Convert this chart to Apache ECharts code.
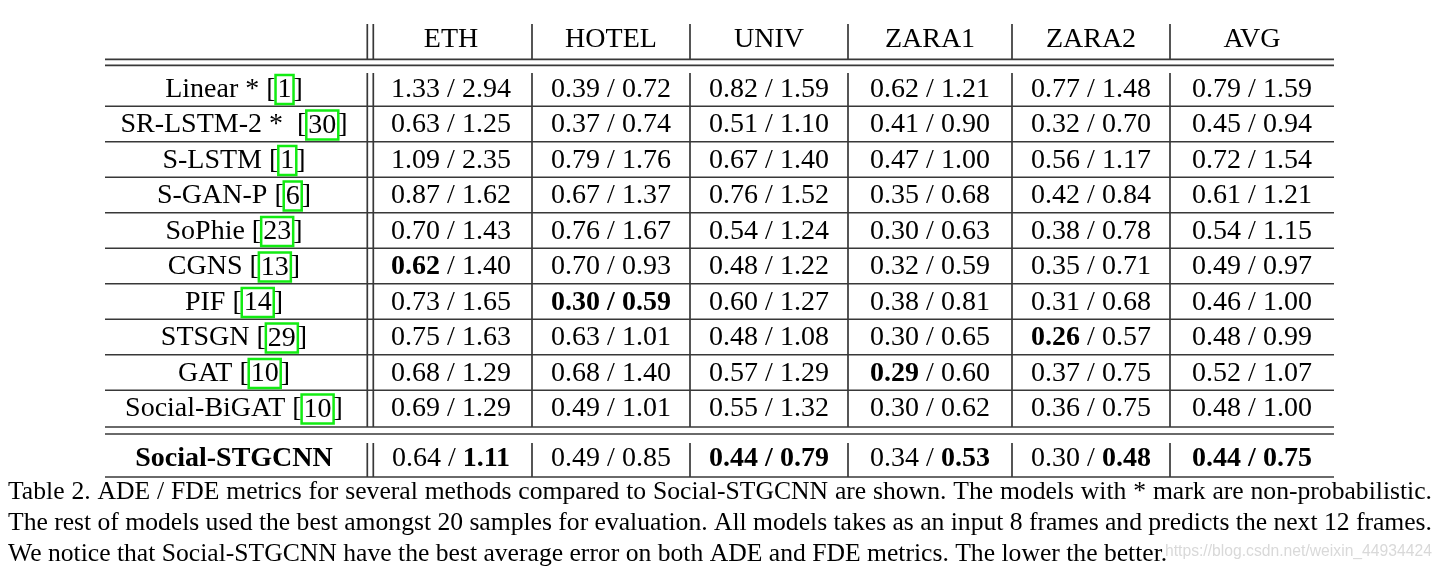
<!DOCTYPE html>
<html>
<head>
<meta charset="utf-8">
<script src="https://cdn.jsdelivr.net/npm/echarts@6/dist/echarts.min.js"></script>
<style>
  html, body { margin: 0; padding: 0; background: #fff; }
  #chart { width: 1442px; height: 579px; }
</style>
</head>
<body>
<div id="chart"></div>
<script>
// ---- data ----
const datasets = ['ETH', 'HOTEL', 'UNIV', 'ZARA1', 'ZARA2', 'AVG'];
const methods = ['Linear *', 'SR-LSTM-2 * ', 'S-LSTM', 'S-GAN-P', 'SoPhie', 'CGNS', 'PIF',
                 'STSGN', 'GAT', 'Social-BiGAT', 'Social-STGCNN'];
const refs = ['1', '30', '1', '6', '23', '13', '14', '29', '10', '10', null];

// [ADE, FDE] per method, same order as methods
const ETH   = [[1.33, 2.94], [0.63, 1.25], [1.09, 2.35], [0.87, 1.62], [0.70, 1.43], [0.62, 1.40],
               [0.73, 1.65], [0.75, 1.63], [0.68, 1.29], [0.69, 1.29], [0.64, 1.11]];
const HOTEL = [[0.39, 0.72], [0.37, 0.74], [0.79, 1.76], [0.67, 1.37], [0.76, 1.67], [0.70, 0.93],
               [0.30, 0.59], [0.63, 1.01], [0.68, 1.40], [0.49, 1.01], [0.49, 0.85]];
const UNIV  = [[0.82, 1.59], [0.51, 1.10], [0.67, 1.40], [0.76, 1.52], [0.54, 1.24], [0.48, 1.22],
               [0.60, 1.27], [0.48, 1.08], [0.57, 1.29], [0.55, 1.32], [0.44, 0.79]];
const ZARA1 = [[0.62, 1.21], [0.41, 0.90], [0.47, 1.00], [0.35, 0.68], [0.30, 0.63], [0.32, 0.59],
               [0.38, 0.81], [0.30, 0.65], [0.29, 0.60], [0.30, 0.62], [0.34, 0.53]];
const ZARA2 = [[0.77, 1.48], [0.32, 0.70], [0.56, 1.17], [0.42, 0.84], [0.38, 0.78], [0.35, 0.71],
               [0.31, 0.68], [0.26, 0.57], [0.37, 0.75], [0.36, 0.75], [0.30, 0.48]];
const AVG   = [[0.79, 1.59], [0.45, 0.94], [0.72, 1.54], [0.61, 1.21], [0.54, 1.15], [0.49, 0.97],
               [0.46, 1.00], [0.48, 0.99], [0.52, 1.07], [0.48, 1.00], [0.44, 0.75]];
const results = [ETH, HOTEL, UNIV, ZARA1, ZARA2, AVG];

const caption = [
  'Table 2. ADE / FDE metrics for several methods compared to Social-STGCNN are shown. The models with * mark are non-probabilistic.',
  'The rest of models used the best amongst 20 samples for evaluation. All models takes as an input 8 frames and predicts the next 12 frames.',
  'We notice that Social-STGCNN have the best average error on both ADE and FDE metrics. The lower the better.'
];
const watermark = 'https://blog.csdn.net/weixin_44934424';

// ---- layout (pixel units on the hidden value axes) ----
const W = 1442, H = 579;
const colEdges = [105, 370, 532, 690, 848, 1012, 1170, 1334];
const methodCenter = 234;
const headerY = 39.5, firstRowY = 89.5, rowPitch = 35.5, lastRowY = 459;
const serif = "'Liberation Serif', 'Times New Roman', serif";
const FS = 28;
const ruleColor = '#383838';

const colCenter = c => c < 0 ? methodCenter : (colEdges[c + 1] + colEdges[c + 2]) / 2;
const rowCenter = r => r < 0 ? headerY : (r < 10 ? firstRowY + r * rowPitch : lastRowY);

// best (lowest) value of each metric per dataset is set in bold
const bestAde = results.map(col => Math.min(...col.map(d => d[0])));
const bestFde = results.map(col => Math.min(...col.map(d => d[1])));

function cellText(c, r) {
  if (r < 0) return c < 0 ? '' : '{n|' + datasets[c] + '}';
  if (c < 0) {
    if (!refs[r]) return '{b|' + methods[r] + '}';
    return '{n|' + methods[r] + ' [}{box|' + refs[r] + '}{n|]}';
  }
  const [a, f] = results[c][r];
  const ba = a === bestAde[c], bf = f === bestFde[c];
  return '{' + (ba ? 'b' : 'n') + '|' + a.toFixed(2) + '}' +
         '{' + (ba && bf ? 'b' : 'n') + '| / }' +
         '{' + (bf ? 'b' : 'n') + '|' + f.toFixed(2) + '}';
}

const rich = {
  n: { fontFamily: serif, fontSize: FS, color: '#000' },
  b: { fontFamily: serif, fontSize: FS, fontWeight: 'bold', color: '#000' },
  box: { fontFamily: serif, fontSize: FS, color: '#000', borderColor: '#12ec12', borderWidth: 2.5,
         padding: [1, 2, 0, 2], lineHeight: 22 }
};

const cells = [];
for (let r = -1; r <= 10; r++) {
  for (let c = -1; c < datasets.length; c++) cells.push([c, r]);
}

// rule segments [x1, y1, x2, y2]
const rules = [];
[59.3, 65.3, 427, 434, 477].forEach(y => rules.push([colEdges[0], y, colEdges[7], y]));
for (let i = 0; i < 9; i++) {
  const y = 88.5 + (i + 0.5) * rowPitch;
  rules.push([colEdges[0], y, colEdges[7], y]);
}
const vx = [367.3, 373.3, 532, 690, 848, 1012, 1170];
[[24, 59.3], [73, 427], [443, 477]].forEach(([y1, y2]) => vx.forEach(x => rules.push([x, y1, x, y2])));

// ---- caption (justified like the source) ----
const ctx = document.createElement('canvas').getContext('2d');
const measure = (t, font) => { ctx.font = font; return ctx.measureText(t).width; };
let capFs = 24;
capFs = capFs * 1160 / measure(caption[2], capFs + "px 'Liberation Serif'");
const capFont = capFs + "px 'Liberation Serif'";
const capLeft = 8, capRight = 1432, capBaselines = [505, 536, 567];
const graphics = [];

let wmFs = 18;
wmFs = wmFs * 267 / measure(watermark, wmFs + "px 'Liberation Sans'");
graphics.push({
  type: 'text', left: 1165, top: 544, z: 1,
  style: { text: watermark, font: wmFs + "px 'Liberation Sans', sans-serif", fill: '#d9d9d9' }
});

caption.forEach((line, i) => {
  const words = line.split(' ');
  const widths = words.map(w => measure(w, capFont));
  const sum = widths.reduce((s, w) => s + w, 0);
  const space = measure(' ', capFont);
  const gap = i < 2 ? (capRight - capLeft - sum) / (words.length - 1) : space;
  let x = capLeft;
  words.forEach((w, k) => {
    graphics.push({
      type: 'text', x: x, y: capBaselines[i], z: 10,
      style: { text: w, font: capFont, fill: '#000', verticalAlign: 'bottom' }
    });
    x += widths[k] + gap;
  });
});

const chart = echarts.init(document.getElementById('chart'));
chart.setOption({
  animation: false,
  backgroundColor: '#fff',
  grid: { left: 0, right: 0, top: 0, bottom: 0 },
  xAxis: { type: 'value', min: 0, max: W, show: false },
  yAxis: { type: 'value', min: 0, max: H, inverse: true, show: false },
  graphic: graphics,
  series: [
    {
      type: 'custom', name: 'rules', silent: true, z: 2,
      data: rules,
      renderItem: (params, api) => {
        const p1 = api.coord([api.value(0), api.value(1)]);
        const p2 = api.coord([api.value(2), api.value(3)]);
        return {
          type: 'line',
          shape: { x1: p1[0], y1: p1[1], x2: p2[0], y2: p2[1] },
          style: { stroke: ruleColor, lineWidth: 1.7 }
        };
      }
    },
    {
      type: 'custom', name: 'cells', silent: true, z: 3,
      data: cells,
      renderItem: (params, api) => {
        const c = api.value(0), r = api.value(1);
        const p = api.coord([colCenter(c), rowCenter(r)]);
        return {
          type: 'text', x: p[0], y: p[1],
          style: { text: cellText(c, r), rich: rich, align: 'center', verticalAlign: 'middle',
                   fontFamily: serif, fontSize: FS, fill: '#000' }
        };
      }
    }
  ]
});
</script>
</body>
</html>
